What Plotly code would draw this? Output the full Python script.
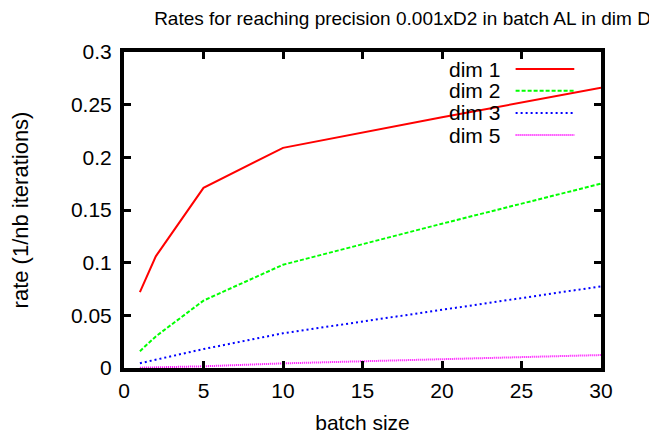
import plotly.graph_objects as go

batch_size = [1, 2, 5, 10, 20, 30]
dim1 = [0.072, 0.106, 0.171, 0.209, 0.238, 0.266]
dim2 = [0.016, 0.030, 0.064, 0.098, 0.137, 0.175]
dim3 = [0.0045, 0.008, 0.018, 0.033, 0.055, 0.0775]
dim5 = [0.0003, 0.0006, 0.0016, 0.0044, 0.0084, 0.0123]

series_names = ["dim 1", "dim 2", "dim 3", "dim 5"]
series_values = [dim1, dim2, dim3, dim5]
colors = ["#ff0000", "#00ff00", "#0000ff", "#ff00ff"]
dashes = ["solid", "4px,2px", "2px,3px", "1px,1px"]

x_ticks = [0, 5, 10, 15, 20, 25, 30]
y_ticks = [0, 0.05, 0.1, 0.15, 0.2, 0.25, 0.3]
y_tick_text = ["0", "0.05", "0.1", "0.15", "0.2", "0.25", "0.3"]

FONT = "Liberation Sans, Arial, sans-serif"
FRAME = "#000000"

fig = go.Figure()
for name, vals, c, d in zip(series_names, series_values, colors, dashes):
    fig.add_trace(go.Scatter(x=batch_size, y=vals, mode="lines", name=name,
                             line=dict(color=c, width=2, dash=d),
                             showlegend=False))

# gnuplot-style legend: text, then line sample
leg_y = [0.946, 0.877, 0.807, 0.737]
for name, c, d, yy in zip(series_names, colors, dashes, leg_y):
    fig.add_annotation(x=0.792, y=yy, xref="paper", yref="paper", text=name,
                       showarrow=False, xanchor="right", yanchor="middle",
                       font=dict(family=FONT, size=21, color="black"))
    fig.add_shape(type="line", xref="paper", yref="paper",
                  x0=0.821, x1=0.944, y0=yy, y1=yy,
                  line=dict(color=c, width=2, dash=d))

axis_common = dict(showgrid=False, zeroline=False, showline=True,
                   linecolor=FRAME, linewidth=4, mirror="ticks",
                   ticks="inside", ticklen=7, tickwidth=3, tickcolor=FRAME,
                   tickfont=dict(family=FONT, size=21, color="black"))

fig.update_xaxes(range=[0, 30], tickvals=x_ticks, ticktext=[str(t) for t in x_ticks],
                 ticklabelstandoff=1,
                 title=dict(text="batch size", font=dict(family=FONT, size=21, color="black"),
                            standoff=15), **axis_common)
fig.update_yaxes(range=[0, 0.3], tickvals=y_ticks, ticktext=y_tick_text,
                 ticklabelstandoff=4,
                 title=dict(text="rate (1/nb iterations)", font=dict(family=FONT, size=22, color="black"),
                            standoff=38), **axis_common)

# the page has an 8px body margin; size the figure to fit the 657x434 window
fig.update_layout(
    width=649, height=426,
    margin=dict(l=116, r=56, t=44, b=66, autoexpand=False),
    paper_bgcolor="white", plot_bgcolor="white",
    title=dict(text="Rates for reaching precision 0.001xD2 in batch AL in dim D",
               x=394.5 / 649, xanchor="center", y=1 - 10 / 426, yanchor="middle",
               font=dict(family=FONT, size=19, color="black")),
    showlegend=False,
)

fig.write_html("out.html")
